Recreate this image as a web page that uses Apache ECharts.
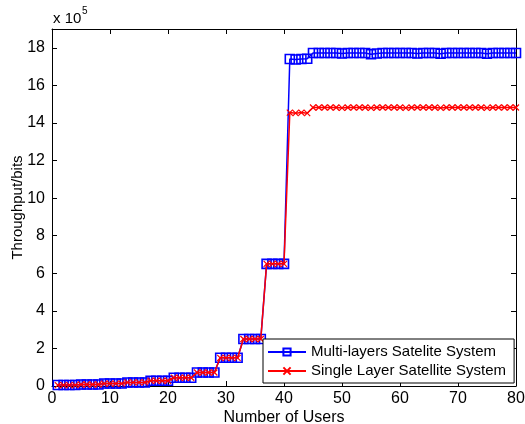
<!DOCTYPE html>
<html>
<head>
<meta charset="utf-8">
<script src="https://cdn.jsdelivr.net/npm/echarts@6/dist/echarts.min.js"></script>
<style>
  html, body { margin: 0; padding: 0; background: #fff; }
  #chart { width: 525px; height: 424px; }
</style>
</head>
<body>
<div id="chart"></div>
<script>
  // number of users 1..80
  var users = [
    1, 2, 3, 4, 5, 6, 7, 8, 9, 10, 11, 12, 13, 14, 15, 16, 17, 18, 19, 20,
    21, 22, 23, 24, 25, 26, 27, 28, 29, 30, 31, 32, 33, 34, 35, 36, 37, 38, 39, 40,
    41, 42, 43, 44, 45, 46, 47, 48, 49, 50, 51, 52, 53, 54, 55, 56, 57, 58, 59, 60,
    61, 62, 63, 64, 65, 66, 67, 68, 69, 70, 71, 72, 73, 74, 75, 76, 77, 78, 79, 80
  ]
  // throughput in units of 10^5 bits
  var multiLayer = [
    0.05, 0.05, 0.05, 0.05, 0.08, 0.08, 0.08, 0.08, 0.13, 0.13, 0.13, 0.13,
    0.19, 0.19, 0.19, 0.19, 0.28, 0.28, 0.28, 0.28, 0.44, 0.44, 0.44, 0.44,
    0.72, 0.72, 0.72, 0.72, 1.5, 1.5, 1.5, 1.5, 2.5, 2.5, 2.5, 2.5,
    6.5, 6.5, 6.5, 6.5, 17.4, 17.38, 17.4, 17.42,
    17.72, 17.72, 17.72, 17.72, 17.72, 17.7, 17.72, 17.72, 17.72, 17.72,
    17.66, 17.7, 17.72, 17.72, 17.72, 17.72, 17.72, 17.72, 17.7, 17.72,
    17.72, 17.72, 17.68, 17.72, 17.72, 17.72, 17.72, 17.72, 17.72, 17.72,
    17.68, 17.72, 17.72, 17.72, 17.72, 17.72
  ]
  var singleLayer = [
    0.05, 0.05, 0.05, 0.05, 0.08, 0.08, 0.08, 0.08, 0.13, 0.13, 0.13, 0.13,
    0.19, 0.19, 0.19, 0.19, 0.28, 0.28, 0.28, 0.28, 0.44, 0.44, 0.44, 0.44,
    0.72, 0.72, 0.72, 0.72, 1.5, 1.5, 1.5, 1.5, 2.5, 2.5, 2.5, 2.5,
    6.5, 6.5, 6.5, 6.5, 14.55, 14.52, 14.55, 14.52,
    14.82, 14.82, 14.82, 14.82, 14.82, 14.8, 14.82, 14.82, 14.82, 14.82,
    14.8, 14.82, 14.82, 14.82, 14.82, 14.82, 14.8, 14.82, 14.82, 14.82,
    14.82, 14.82, 14.8, 14.82, 14.82, 14.82, 14.82, 14.82, 14.82, 14.82,
    14.8, 14.82, 14.82, 14.82, 14.82, 14.82
  ]
  var xTicks = [0, 10, 20, 30, 40, 50, 60, 70, 80]
  var yTicks = [0, 2, 4, 6, 8, 10, 12, 14, 16, 18]
  var seriesNames = ['Multi-layers Satelite System', 'Single Layer Satellite System']

  var font = 'Liberation Sans, Arial, sans-serif'
  var chart = echarts.init(document.getElementById('chart'))

  function pairs(ys) {
    var out = []
    for (var i = 0; i < users.length; i++) {
      out.push([users[i], ys[i]])
    }
    return out
  }

  var frameAxis = {
    axisLine: { show: true, onZero: false, lineStyle: { color: '#000', width: 1 } },
    axisTick: { show: true, inside: true, length: 5, lineStyle: { color: '#000' } },
    splitLine: { show: false },
  }

  var option = {
    animation: false,
    backgroundColor: '#fff',
    grid: { left: 52, right: 9, top: 29, bottom: 38, outerBoundsMode: 'none', containLabel: false },
    xAxis: [{
      type: 'value',
      min: 0,
      max: 80,
      interval: 10,
      position: 'bottom',
      axisLine: frameAxis.axisLine,
      axisTick: frameAxis.axisTick,
      splitLine: frameAxis.splitLine,
      axisLabel: {
        color: '#000', fontFamily: font, fontSize: 16, margin: 5,
        formatter: function (v) { return xTicks.indexOf(v) >= 0 ? String(v) : '' },
      },
      name: 'Number of Users',
      nameLocation: 'middle',
      nameGap: 24,
      nameMoveOverlap: false,
      nameTextStyle: { color: '#000', fontFamily: font, fontSize: 16 },
    }, {
      type: 'value',
      min: 0,
      max: 80,
      interval: 10,
      position: 'top',
      axisLine: frameAxis.axisLine,
      axisTick: frameAxis.axisTick,
      splitLine: frameAxis.splitLine,
      axisLabel: { show: false },
    }],
    yAxis: [{
      type: 'value',
      min: 0,
      max: 19,
      interval: 2,
      position: 'left',
      axisLine: frameAxis.axisLine,
      axisTick: frameAxis.axisTick,
      splitLine: frameAxis.splitLine,
      axisLabel: {
        color: '#000', fontFamily: font, fontSize: 16, margin: 7,
        formatter: function (v) { return yTicks.indexOf(v) >= 0 ? String(v) : '' },
      },
      name: 'Throughput/bits',
      nameLocation: 'middle',
      nameGap: 27,
      nameMoveOverlap: false,
      nameTextStyle: { color: '#000', fontFamily: font, fontSize: 15 },
    }, {
      type: 'value',
      min: 0,
      max: 19,
      interval: 2,
      position: 'right',
      axisLine: frameAxis.axisLine,
      axisTick: frameAxis.axisTick,
      splitLine: frameAxis.splitLine,
      axisLabel: { show: false },
    }],
    legend: {
      orient: 'vertical',
      left: 263,
      top: 339,
      padding: [5, 8, 4, 4],
      itemGap: 3,
      itemWidth: 38,
      itemHeight: 9,
      backgroundColor: '#fff',
      borderColor: '#000',
      borderWidth: 1,
      textStyle: { color: '#000', fontFamily: font, fontSize: 15, lineHeight: 16 },
      data: seriesNames,
    },
    graphic: [{
      type: 'text',
      left: 53,
      top: 11,
      style: { text: 'x 10', fontFamily: font, fontSize: 15, fill: '#000' },
    }, {
      type: 'text',
      left: 82,
      top: 6,
      style: { text: '5', fontFamily: font, fontSize: 10, fill: '#000' },
    }],
    series: [{
      name: seriesNames[0],
      type: 'line',
      data: pairs(multiLayer),
      symbol: 'rect',
      symbolSize: 9,
      showAllSymbol: true,
      z: 2,
      lineStyle: { color: '#0000ff', width: 1.5 },
      itemStyle: { color: 'rgba(0,0,0,0)', borderColor: '#0000ff', borderWidth: 1.6 },
    }, {
      name: seriesNames[1],
      type: 'line',
      data: pairs(singleLayer),
      symbol: 'path://M0,0L10,10M10,0L0,10',
      symbolSize: 6,
      showAllSymbol: true,
      z: 3,
      lineStyle: { color: '#ff0000', width: 1.5 },
      itemStyle: { color: 'rgba(0,0,0,0)', borderColor: '#ff0000', borderWidth: 1.2 },
    }],
  }
  chart.setOption(option)
</script>
</body>
</html>
